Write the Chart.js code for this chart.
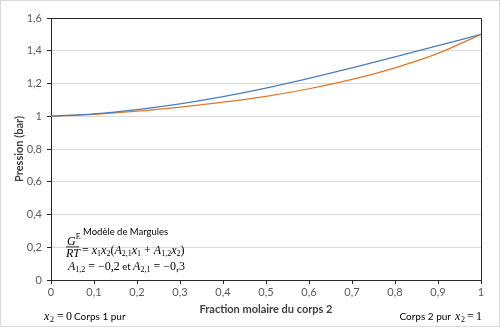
<!DOCTYPE html>
<html>
<head>
<meta charset="utf-8">
<script src="https://cdn.jsdelivr.net/npm/chart.js@4/dist/chart.umd.min.js"></script>
<style>
html,body{margin:0;padding:0;background:#fff;}
canvas{display:block;}
</style>
</head>
<body>
<canvas id="c" width="500" height="327"></canvas>
<script>
// Data
const fractions = [0, 0.1, 0.2, 0.3, 0.4, 0.5, 0.6, 0.7, 0.8, 0.9, 1];
const bubblePressure = [1.000, 1.015, 1.041, 1.076, 1.120, 1.172, 1.231, 1.295, 1.362, 1.431, 1.500];
const dewPressure = [1.000, 1.012, 1.031, 1.056, 1.086, 1.122, 1.168, 1.225, 1.296, 1.384, 1.500];
const xTitle = 'Fraction molaire du corps 2';
const yTitle = 'Pression (bar)';

const SANS = 'Lato, "Open Sans", sans-serif';
const SERIF = '"Liberation Serif", "DejaVu Serif", serif';

function fmt(v) {
  let s = (Math.round(v * 10) / 10).toFixed(1);
  if (s.endsWith('.0')) s = s.slice(0, -2);
  return s.replace('.', ',');
}

// Draw a run of text segments: [text, font, dy]
function drawRun(ctx, x, y, segs) {
  let cx = x;
  for (const [t, f, dy] of segs) {
    ctx.font = f;
    ctx.fillText(t, cx, y + (dy || 0));
    cx += ctx.measureText(t).width;
  }
  return cx;
}
// Draw pieces at given x positions: [text, font, x, dy]
function drawAt(ctx, y, pieces) {
  for (const [t, f, x, dy] of pieces) {
    ctx.font = f;
    ctx.fillText(t, x, y + (dy || 0));
  }
}

const annot = {
  id: 'annot',
  beforeDraw(chart) {
    const ctx = chart.ctx;
    ctx.save();
    ctx.fillStyle = '#fff';
    ctx.fillRect(0, 0, chart.width, chart.height);
    ctx.restore();
  },
  afterDraw(chart) {
    const ctx = chart.ctx;
    const a = chart.chartArea;
    ctx.save();
    // plot frame
    ctx.strokeStyle = '#262626';
    ctx.lineWidth = 1;
    ctx.beginPath();
    ctx.moveTo(Math.round(a.left) + 0.5, Math.round(a.top) + 0.5);
    ctx.lineTo(Math.round(a.right) + 0.5, Math.round(a.top) + 0.5);
    ctx.lineTo(Math.round(a.right) + 0.5, Math.round(a.bottom) + 0.5);
    ctx.stroke();
    // outer border
    ctx.strokeStyle = '#d9d9d9';
    ctx.strokeRect(0.5, 0.5, chart.width - 1, chart.height - 1);

    ctx.fillStyle = '#000';
    ctx.textBaseline = 'alphabetic';
    const mi = 'italic 12px ' + SERIF;
    const mr = '12px ' + SERIF;
    const msr = '8px ' + SERIF;
    const sans = '10px ' + SANS;
    // Annotation block
    ctx.font = '9.5px ' + SANS;
    ctx.fillText('Modèle de Margules', 83, 235);
    // fraction
    drawRun(ctx, 67, 245, [['G', mi, 0], ['E', '8px ' + SERIF, -6]]);
    ctx.fillRect(66, 246.5, 13, 0.8);
    drawRun(ctx, 66, 257, [['RT', mi, 0]]);
    drawRun(ctx, 79, 254, [
      [' = ', mr, 0], ['x', mi, 0], ['1', msr, 2], ['x', mi, 0], ['2', msr, 2],
      ['(', mr, 0], ['A', mi, 0], ['2,1', msr, 2], ['x', mi, 0], ['1', msr, 2],
      [' + ', mr, 0], ['A', mi, 0], ['1,2', msr, 2], ['x', mi, 0], ['2', msr, 2], [')', mr, 0]
    ]);
    drawRun(ctx, 68, 270, [
      ['A', mi, 0], ['1,2', msr, 2], [' = \u22120,2', mr, 0], [' et ', '9.5px ' + SANS, 0],
      ['A', mi, 0], ['2,1', msr, 2], [' = \u22120,3', mr, 0]
    ]);
    // bottom notes
    drawAt(ctx, 320, [['x', mi, 44, 0], ['2', msr, 50, 2], ['=', mr, 57, 0], ['0', mr, 66, 0], ['Corps 1 pur', sans, 74, 0]]);
    ctx.textAlign = 'right';
    drawAt(ctx, 320, [['Corps 2 pur', sans, 451, 0]]);
    ctx.textAlign = 'left';
    drawAt(ctx, 320, [['x', mi, 455, 0], ['2', msr, 461, 2], ['=', mr, 467, 0], ['1', mr, 476, 0]]);
    ctx.restore();
  }
};

const toPts = (ys) => fractions.map((x, i) => ({x: x, y: ys[i]}));

new Chart(document.getElementById('c'), {
  type: 'line',
  data: {
    datasets: [
      {data: toPts(bubblePressure), borderColor: '#4A7EBB', borderWidth: 1.25, pointRadius: 0, fill: false, cubicInterpolationMode: 'monotone'},
      {data: toPts(dewPressure), borderColor: '#E07628', borderWidth: 1.25, pointRadius: 0, fill: false, cubicInterpolationMode: 'monotone'}
    ]
  },
  options: {
    responsive: false,
    animation: false,
    events: [],
    layout: {padding: {top: 18, right: 19, left: 0, bottom: 0}},
    plugins: {legend: {display: false}, tooltip: {enabled: false}},
    scales: {
      x: {
        type: 'linear', min: 0, max: 1,
        afterFit(s) { s.height = 47; },
        ticks: {stepSize: 0.1, callback: (v) => fmt(v), color: '#595959', font: {family: SANS, size: 11}, padding: 2, maxRotation: 0},
        grid: {display: true, drawOnChartArea: false, tickLength: 4, tickColor: '#262626'},
        border: {color: '#262626', width: 1},
        title: {display: true, text: xTitle, color: '#404040', font: {family: SANS, size: 11, weight: 'bold'}, padding: {top: 0, bottom: 11}}
      },
      y: {
        min: 0, max: 1.6,
        afterFit(s) { s.width = 51; },
        ticks: {stepSize: 0.2, callback: (v) => fmt(v), color: '#595959', font: {family: SANS, size: 11}, padding: 5},
        grid: {color: '#d9d9d9', tickLength: 4, tickColor: '#262626'},
        border: {color: '#262626', width: 1},
        title: {display: true, text: yTitle, color: '#404040', font: {family: SANS, size: 11, weight: 'bold'}, padding: {top: 13, bottom: 0}}
      }
    }
  },
  plugins: [annot]
});
</script>
</body>
</html>
